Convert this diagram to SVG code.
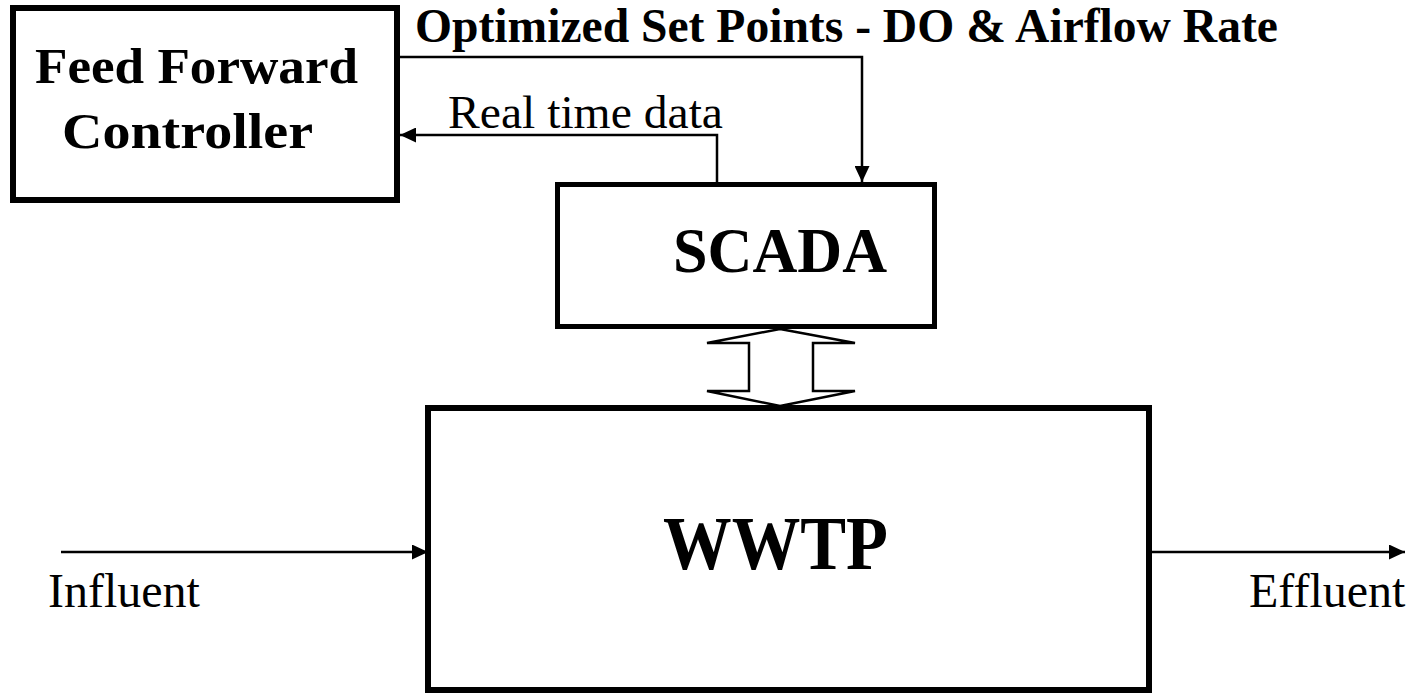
<svg xmlns="http://www.w3.org/2000/svg" width="1410" height="695" viewBox="0 0 1410 695">
  <defs>
    <style>
      .box { fill: #ffffff; stroke: #000000; }
      .wire { fill: none; stroke: #000000; stroke-width: 2.5; }
      text { font-family: 'Liberation Serif', serif; fill: #000000; }
      .bold { font-weight: bold; }
    </style>
    <marker id="arrow" viewBox="0 0 16 15" refX="16" refY="7.5" markerWidth="16" markerHeight="15" markerUnits="userSpaceOnUse" orient="auto">
      <path d="M0,0 L16,7.5 L0,15 Z" fill="#000000"/>
    </marker>
  </defs>
  <rect width="1410" height="695" fill="#ffffff"/>

  <!-- controller -->
  <g id="controller">
    <rect class="box" x="13" y="8" width="384" height="192" stroke-width="6"/>
    <text class="bold" x="35" y="83" font-size="50" textLength="323" lengthAdjust="spacingAndGlyphs">Feed Forward</text>
    <text class="bold" x="62" y="148" font-size="50" textLength="251" lengthAdjust="spacingAndGlyphs">Controller</text>
  </g>

  <!-- SCADA -->
  <g id="scada">
    <rect class="box" x="557.5" y="184.5" width="377" height="142" stroke-width="5"/>
    <text class="bold" x="673" y="272" font-size="64" textLength="214" lengthAdjust="spacingAndGlyphs">SCADA</text>
  </g>

  <!-- treatment plant -->
  <g id="wwtp">
    <rect class="box" x="428" y="408" width="721" height="282" stroke-width="6"/>
    <text class="bold" x="663" y="569" font-size="77" textLength="225" lengthAdjust="spacingAndGlyphs">WWTP</text>
  </g>

  <!-- connectors and their labels -->
  <g id="connectors">
    <path class="wire" d="M400,57 H862 V182" marker-end="url(#arrow)"/>
    <path class="wire" d="M717,182 V135 H400" marker-end="url(#arrow)"/>
    <path d="M780,329 L855,343 L813,343 L813,391 L855,391 L780,406 L707,391 L749,391 L749,343 L707,343 Z" fill="#ffffff" stroke="#000000" stroke-width="2.5" stroke-linejoin="miter"/>
    <path class="wire" d="M61,552 H428" marker-end="url(#arrow)"/>
    <path class="wire" d="M1152,552 H1405" marker-end="url(#arrow)"/>
    <text class="bold" x="415" y="42" font-size="48" textLength="863" lengthAdjust="spacingAndGlyphs">Optimized Set Points - DO &amp; Airflow Rate</text>
    <text x="448" y="128" font-size="47" textLength="275" lengthAdjust="spacingAndGlyphs">Real time data</text>
    <text x="48" y="607" font-size="48">Influent</text>
    <text x="1249" y="607" font-size="48">Effluent</text>
  </g>
</svg>
